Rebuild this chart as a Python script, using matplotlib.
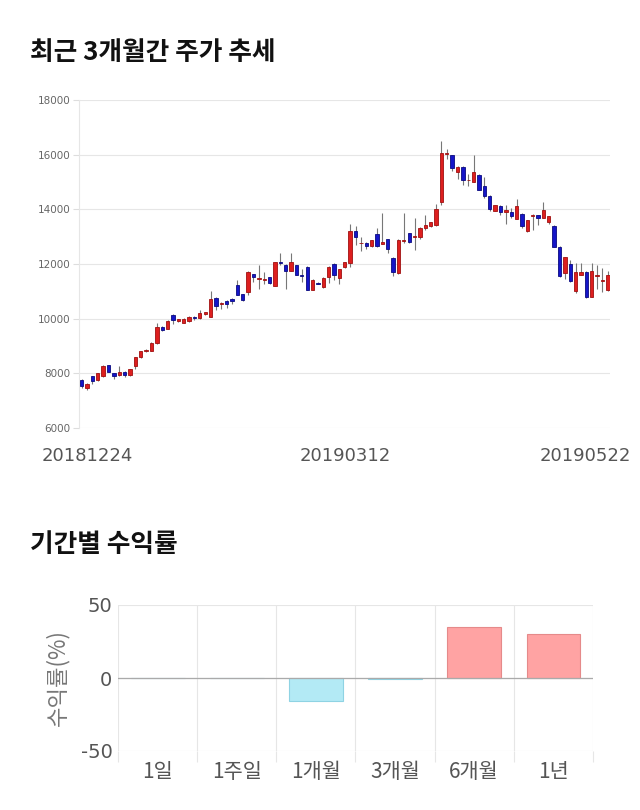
import matplotlib
matplotlib.use("Agg")
import matplotlib.pyplot as plt
import matplotlib.transforms as mtransforms
import numpy as np

plt.rcParams['font.family'] = ['Noto Sans CJK KR', 'DejaVu Sans']

# ---- candle data (KRW) ----
opens = [7750, 7480, 7900, 7750, 7900, 8300, 8000, 7930, 8060, 7940,
         8270, 8590, 8830, 8815, 9110, 9700, 9630, 10150, 9900, 9850,
         9900, 10070, 10025, 10170, 10070, 10770, 10540, 10660, 10720, 11220,
         10890, 10990, 11630, 11450, 11430, 11520, 11200, 12070, 11980, 11760,
         11950, 11600, 11900, 11060, 11320, 11150, 11520, 12000, 11470, 11880,
         12050, 13200, 12750, 12760, 12650, 13090, 12740, 12900, 12220, 11670,
         12850, 13130, 13000, 13000, 13320, 13390, 13420, 14270, 16040, 15975,
         15360, 15555, 15060, 15010, 15260, 14850, 14490, 13950, 14110, 13900,
         13890, 13650, 13840, 13190, 13770, 13790, 13700, 13550, 13400, 12630,
         11660, 12000, 11030, 11610, 11710, 10810, 11560, 11390, 11050]
closes = [7520, 7600, 7720, 8000, 8270, 8060, 7920, 8060, 7930, 8150,
          8590, 8815, 8850, 9110, 9700, 9580, 9930, 9950, 9975, 10000,
          10070, 10025, 10190, 10240, 10720, 10480, 10560, 10520, 10630, 10870,
          10700, 11710, 11520, 11470, 11450, 11300, 12070, 12020, 11760, 12070,
          11610, 11560, 11060, 11420, 11270, 11500, 11900, 11610, 11800, 12060,
          13200, 12970, 12760, 12670, 12860, 12650, 12800, 12560, 11710, 12880,
          12860, 12800, 13010, 13320, 13420, 13530, 14010, 16075, 16060, 15500,
          15555, 15060, 15080, 15360, 14715, 14490, 14000, 14150, 13890, 13960,
          13745, 14110, 13400, 13600, 13790, 13700, 13960, 13745, 12630, 11560,
          12240, 11370, 11710, 11710, 10810, 11760, 11580, 11400, 11610]
highs = [7780, 7650, 7920, 8020, 8290, 8320, 8020, 8270, 8080, 8170,
         8610, 8830, 8900, 9130, 9850, 9720, 9950, 10170, 10000, 10020,
         10090, 10100, 10300, 10260, 11030, 10790, 10600, 10680, 10740, 11400,
         10910, 11730, 11650, 11950, 11700, 11540, 12090, 12400, 12000, 12400,
         11970, 11800, 11920, 11440, 11340, 11520, 11920, 12020, 11820, 12080,
         13450, 13380, 12980, 12800, 12880, 13300, 13870, 12920, 12240, 12900,
         13860, 13150, 13700, 13340, 13800, 13550, 14200, 16500, 16200, 16000,
         15580, 15580, 15300, 15980, 15280, 15200, 14510, 14170, 14150, 14150,
         14050, 14380, 13860, 13620, 13830, 13810, 14270, 13760, 13420, 12650,
         12260, 12150, 12050, 12050, 11730, 12050, 11950, 11850, 11750]
lows = [7480, 7380, 7600, 7720, 7880, 8040, 7780, 7900, 7880, 7920,
        8150, 8570, 8780, 8800, 9090, 9560, 9610, 9800, 9880, 9830,
        9880, 9950, 10000, 10150, 10050, 10300, 10350, 10400, 10550, 10850,
        10640, 10850, 11350, 11080, 11250, 11280, 11180, 11950, 11080, 11740,
        11590, 11350, 11040, 11040, 11250, 11130, 11300, 11400, 11250, 11860,
        11900, 12700, 12480, 12550, 12630, 12630, 12720, 12400, 11560, 11650,
        12780, 12780, 12500, 12900, 13250, 13370, 13400, 14150, 15850, 15400,
        15100, 14900, 14850, 14990, 14700, 14400, 13950, 13930, 13800, 13480,
        13700, 13630, 13300, 13170, 13250, 13420, 13680, 13450, 12610, 11540,
        11450, 11350, 10950, 11590, 10750, 10780, 11100, 10980, 11030]
date_ticks = [0, 49, 98]
date_labels = ["20181224", "20190312", "20190522"]
price_ticks = [6000, 8000, 10000, 12000, 14000, 16000, 18000]

# ---- returns data ----
periods = ["1일", "1주일", "1개월", "3개월", "6개월", "1년"]
returns = [0.0, -0.3, -15.6, -0.5, 34.6, 30.2]

fig = plt.figure(figsize=(6.4, 8.1), dpi=100)

fig.text(30/640, 1 - 52/810, "최근 3개월간 주가 추세", fontsize=18.5, fontweight='bold',
         va='center', ha='left', color='#111111')
fig.text(30/640, 1 - 544/810, "기간별 수익률", fontsize=18.5, fontweight='bold',
         va='center', ha='left', color='#111111')

# ---- candlestick chart ----
ax = fig.add_axes([79/640, 1 - 428/810, 531/640, 328/810])
x = np.arange(len(opens))
o = np.array(opens); c = np.array(closes); h = np.array(highs); l = np.array(lows)
up = c >= o
ax.vlines(x, l, h, color='#777777', linewidth=0.8, zorder=2)
body_bottom = np.minimum(o, c)
body_h = np.abs(c - o)
ax.bar(x[up], body_h[up], bottom=body_bottom[up], width=0.62,
       color='#dd1f1f', edgecolor='#a01010', linewidth=0.6, zorder=3)
ax.bar(x[~up], body_h[~up], bottom=body_bottom[~up], width=0.62,
       color='#1515c8', edgecolor='#0a0a80', linewidth=0.6, zorder=3)
ax.set_xlim(-0.5, 98.4)
ax.set_ylim(6000, 18000)
ax.set_yticks(price_ticks)
ax.set_yticklabels([str(v) for v in price_ticks], fontsize=7.5, color='#666666',
                   family='DejaVu Sans')
ax.tick_params(axis='y', length=4, color='#dddddd', pad=2)
ax.set_xticks(date_ticks)
ax.set_xticklabels(date_labels, fontsize=13, color='#555555', family='DejaVu Sans')
ax.tick_params(axis='x', length=0, pad=14)
ax.grid(axis='y', color='#e6e6e6', linewidth=0.8)
for s in ['top', 'right', 'bottom']:
    ax.spines[s].set_visible(False)
ax.spines['left'].set_color('#e6e6e6')
ax.set_axisbelow(True)

xt = ax.get_xticklabels()
offs = [-40, 0, 23]
xt[0].set_ha('left')
xt[2].set_ha('right')
for lab, d in zip(xt, offs):
    lab.set_transform(lab.get_transform() + mtransforms.ScaledTranslation(d/100, 0, fig.dpi_scale_trans))

# ---- returns bar chart ----
ax2 = fig.add_axes([118/640, 1 - 751/810, 475/640, 146/810])
pos = np.arange(len(periods))
vals = np.array(returns)
cols = ['#ffa3a3' if v > 0 else '#b3eaf5' for v in vals]
edges = ['#e58a8a' if v > 0 else '#8fd3e3' for v in vals]
ax2.bar(pos, vals, width=0.68, color=cols, edgecolor=edges, linewidth=0.8, zorder=3)
ax2.set_xlim(-0.5, 5.5)
ax2.set_ylim(-50, 50)
ax2.set_yticks([-50, 0, 50])
ax2.set_yticklabels(["-50", "0", "50"], fontsize=14, color='#555555', family='DejaVu Sans')
ax2.tick_params(axis='y', length=0, pad=4)
ax2.set_xticks(pos)
ax2.set_xticklabels(periods, fontsize=15, color='#555555')
ax2.tick_params(axis='x', which='major', length=0, pad=7)
ax2.set_xticks(np.arange(-0.5, 6.0, 1.0), minor=True)
ax2.tick_params(axis='x', which='minor', length=8, color='#e6e6e6', width=0.8)
ax2.grid(axis='x', which='minor', color='#e6e6e6', linewidth=0.8)
ax2.grid(axis='y', color='#e6e6e6', linewidth=0.8)
ax2.axhline(0, color='#aaaaaa', linewidth=0.9, zorder=4)
for s in ['top', 'right', 'left', 'bottom']:
    ax2.spines[s].set_visible(False)
ax2.set_axisbelow(True)
ax2.set_ylabel("수익률(%)", fontsize=16, color='#777777', labelpad=8)

fig.savefig("out.png", dpi=100, facecolor='white')
